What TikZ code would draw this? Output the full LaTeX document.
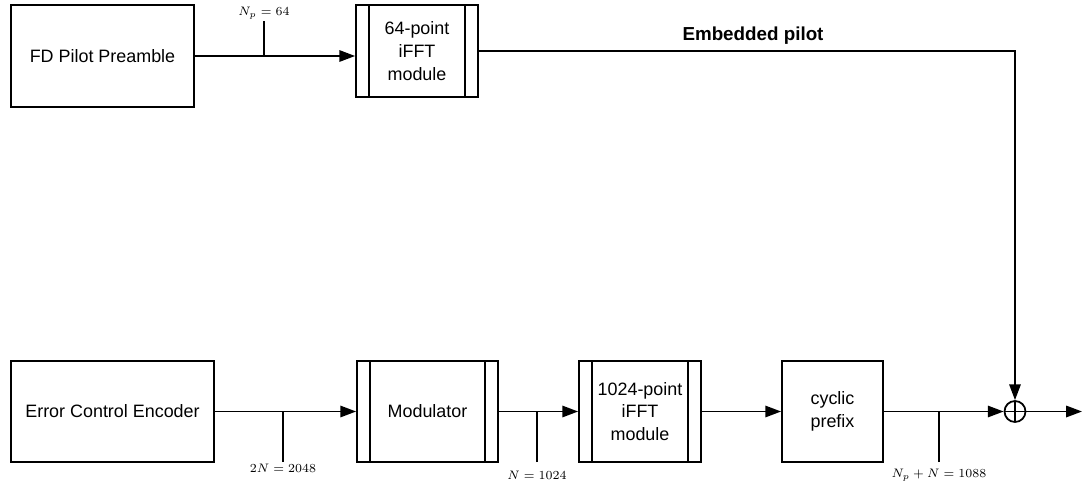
\documentclass[tikz,border=0pt]{standalone}
\usepackage{fontspec}
\setmainfont{Liberation Sans}
\usetikzlibrary{arrows.meta}

\begin{document}
\begin{tikzpicture}[x=0.02cm, y=-0.02cm,
    block/.style={draw, line width=1pt, align=center, inner sep=2pt,
      font=\fontsize{10.2}{13}\selectfont},
    module/.style={block, path picture={
        \draw[line width=1pt] ([xshift=0.26cm]path picture bounding box.north west)
          -- ([xshift=0.26cm]path picture bounding box.south west);
        \draw[line width=1pt] ([xshift=-0.26cm]path picture bounding box.north east)
          -- ([xshift=-0.26cm]path picture bounding box.south east);}},
    sum/.style={circle, draw, line width=1pt, minimum size=0.42cm, inner sep=0pt,
      path picture={
        \draw[line width=1pt] (path picture bounding box.north)
          -- (path picture bounding box.south);
        \draw[line width=1pt] (path picture bounding box.west)
          -- (path picture bounding box.east);}},
    lbl/.style={font=\fontsize{6.9}{8}\selectfont, inner sep=1pt}]
  \useasboundingbox (0,0) rectangle (1083,487);
  \begin{scope}[every node/.style={block, minimum height=2.02cm}]
    \node [minimum width=3.66cm, minimum height=2.04cm] (fd) at (102.5,56)
    {FD Pilot Preamble}; \node [module, minimum width=2.44cm,
    minimum height=1.84cm] (ifftp) at (417,51) {64-point\\iFFT\\module};
    \node [minimum width=4.06cm] (enc) at (112.5,411.5) {Error Control
      Encoder}; \node [module, minimum width=2.82cm] (mod) at
    (427.5,411.5) {Modulator}; \node [module, minimum width=2.44cm]
    (ifftd) at (640,411.5) {1024-point\\iFFT\\module}; \node [minimum
    width=2.02cm] (cp) at (832.5,411.5) {cyclic\\prefix};
  \end{scope}
  \node [sum] (add) at (1015,411.5) {}; \coordinate (out) at (1082,411.5);
  \node [font=\bfseries\fontsize{10.7}{12}\selectfont] (emb) at (753,36)
  {Embedded pilot};
  \begin{scope}[line width=1pt, -{Triangle[length=9pt,width=6.5pt]}]
    \draw (fd.east) to (fd.east -| ifftp.west); \draw (ifftp.east) -|
    (add.north); \draw (enc) to (mod); \draw (mod) to (ifftd);
    \draw (ifftd) to (cp); \draw (cp) to (add); \draw (add)
    to (out);
  \end{scope}
  \begin{scope}[line width=1pt]
    \coordinate (tnp) at (264,21); \coordinate (t2n) at (283,462);
    \coordinate (tn) at (537,462); \coordinate (tsum) at (939,462);
    \draw (tnp) to (tnp |- fd.east); \draw (t2n) to (t2n |- enc.east);
    \draw (tn) to (tn |- mod.east); \draw (tsum) to (tsum |- cp.east);
  \end{scope}
  \begin{scope}[every node/.style={lbl}]
    \node [above] (lnp) at (tnp) {$N_p = 64$}; \node [below] (l2n) at
    (t2n) {$2N = 2048$}; \node [below, yshift=-0.14cm] (ln) at (tn)
    {$N = 1024$}; \node [below, yshift=-0.1cm] (lsum) at (tsum)
    {$N_p + N = 1088$};
  \end{scope}
\end{tikzpicture}
\end{document}
